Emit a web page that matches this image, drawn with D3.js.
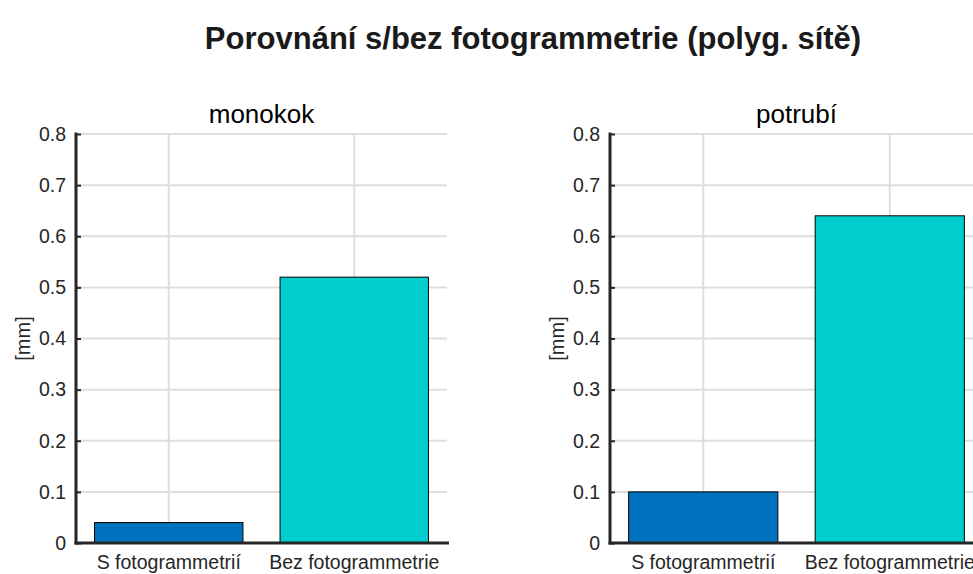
<!DOCTYPE html>
<html>
<head>
<meta charset="utf-8">
<script src="https://cdn.jsdelivr.net/npm/d3@7"></script>
<style>
  html, body { margin: 0; padding: 0; background: #fff; }
  svg { display: block; font-family: "Liberation Sans", Arial, Helvetica, sans-serif; }
</style>
</head>
<body>
<svg id="chart" width="973" height="574"></svg>
<script>
// Chart data
const mainTitle = "Porovnání s/bez fotogrammetrie (polyg. sítě)";
const categories = ["S fotogrammetrií", "Bez fotogrammetrie"];
const panelTitles = ["monokok", "potrubí"];
const monokokValues = [0.04, 0.52];
const potrubiValues = [0.10, 0.64];
const yTicks = [0, 0.1, 0.2, 0.3, 0.4, 0.5, 0.6, 0.7, 0.8];
const yLabel = "[mm]";
const barColors = ["#0072BD", "#00CDCD"];

const svg = d3.select("#chart");

svg.append("text")
  .attr("x", 533).attr("y", 49)
  .attr("text-anchor", "middle")
  .attr("font-size", 31).attr("font-weight", "bold")
  .attr("fill", "#1a1a1a")
  .text(mainTitle);

const panels = [
  { title: panelTitles[0], values: monokokValues, left: 76, right: 447 },
  { title: panelTitles[1], values: potrubiValues, left: 610, right: 983 }
];
const plotTop = 134, plotBottom = 543;

panels.forEach(p => {
  const g = svg.append("g");
  // numeric x scale: categories at 1 and 2, limits 0.5..2.5
  const x = d3.scaleLinear().domain([0.5, 2.5]).range([p.left, p.right]);
  const y = d3.scaleLinear().domain([0, 0.8]).range([plotBottom, plotTop]);
  const barW = 0.8;

  // grid
  g.append("g").selectAll("line").data(yTicks.filter(t => t > 0)).join("line")
    .attr("x1", p.left).attr("x2", p.right)
    .attr("y1", d => y(d)).attr("y2", d => y(d))
    .attr("stroke", "#dedede").attr("stroke-width", 2);
  g.append("g").selectAll("line").data(categories).join("line")
    .attr("x1", (d, i) => x(i + 1)).attr("x2", (d, i) => x(i + 1))
    .attr("y1", plotTop).attr("y2", plotBottom)
    .attr("stroke", "#dedede").attr("stroke-width", 2);

  // bars
  g.append("g").selectAll("rect").data(p.values).join("rect")
    .attr("x", (d, i) => x(i + 1 - barW / 2))
    .attr("width", (d, i) => x(i + 1 + barW / 2) - x(i + 1 - barW / 2))
    .attr("y", d => y(d))
    .attr("height", d => y(0) - y(d))
    .attr("fill", (d, i) => barColors[i])
    .attr("stroke", "#000").attr("stroke-width", 1);

  // y axis
  const yAxis = d3.axisLeft(y).tickValues(yTicks).tickSize(-5).tickPadding(10)
    .tickFormat(d => d === 0 ? "0" : d3.format(".1f")(d));
  const ya = g.append("g").attr("transform", `translate(${p.left},0)`).call(yAxis);
  ya.select(".domain").remove();
  ya.selectAll(".tick line").attr("stroke", "#262626").attr("stroke-width", 2);
  ya.selectAll(".tick text").attr("font-size", 19.5).attr("fill", "#262626")
    .attr("font-family", "Liberation Sans, Arial, sans-serif");
  g.append("line")
    .attr("x1", p.left).attr("x2", p.left)
    .attr("y1", plotTop - 1.5).attr("y2", plotBottom + 1.5)
    .attr("stroke", "#262626").attr("stroke-width", 3);

  // x axis
  g.append("line")
    .attr("x1", p.left - 1.5).attr("x2", p.right + 2)
    .attr("y1", plotBottom).attr("y2", plotBottom)
    .attr("stroke", "#262626").attr("stroke-width", 3);
  g.append("g").selectAll("text").data(categories).join("text")
    .attr("x", (d, i) => x(i + 1)).attr("y", 569)
    .attr("text-anchor", "middle")
    .attr("font-size", 19.5).attr("fill", "#262626")
    .text(d => d);

  // titles
  g.append("text")
    .attr("x", (p.left + p.right) / 2).attr("y", 123)
    .attr("text-anchor", "middle")
    .attr("font-size", 26).attr("fill", "#000")
    .text(p.title);
  g.append("text")
    .attr("transform", `translate(${p.left - 46},${(plotTop + plotBottom) / 2}) rotate(-90)`)
    .attr("text-anchor", "middle")
    .attr("font-size", 20).attr("fill", "#262626")
    .text(yLabel);
});
</script>
</body>
</html>
